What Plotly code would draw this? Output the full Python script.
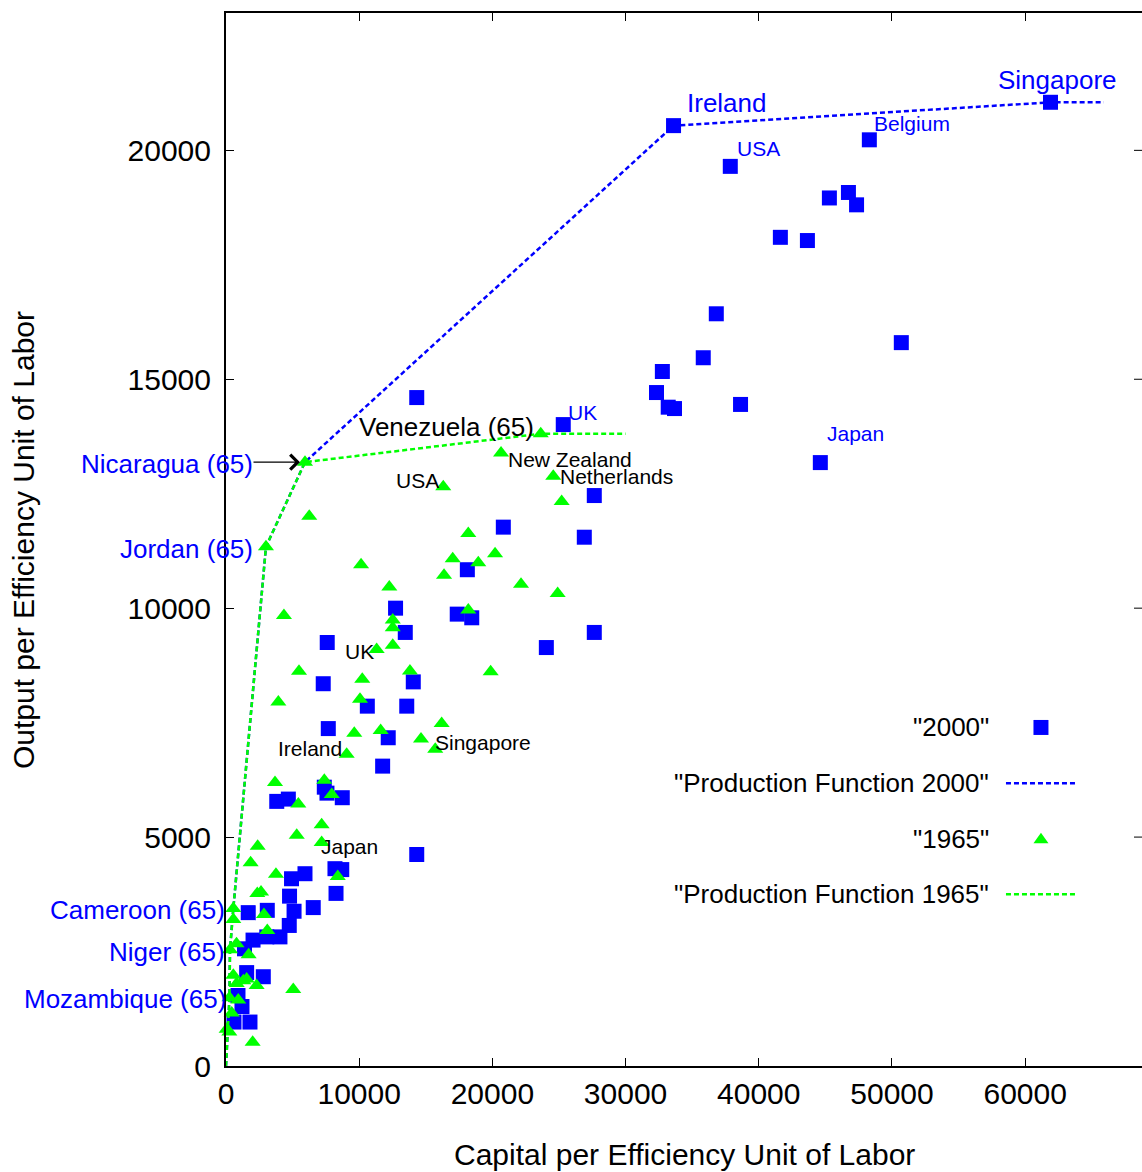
import plotly.graph_objects as go

# ---- data: capital (K) and output (Y) per efficiency unit of labour ----
# 2000 sample; the first six entries are the labelled countries
names2000 = ["Singapore", "Ireland", "Belgium", "USA", "UK", "Japan"]
k2000 = [61900, 33600, 48300, 37860, 25320, 44620,
         45300, 46730, 47340, 41620, 43650, 36810, 50700, 35830, 32760, 32320,
         33200, 33670, 38630, 14320, 27650, 20820, 26900, 18120, 17360, 18450,
         24050, 27650, 12730, 13460, 7600, 7300, 14060, 10610, 13570, 7680,
         12180, 11760, 7380, 7580, 3810, 4680, 8730, 14320, 4920, 5930, 8180,
         8690, 8260, 4770, 6550, 5110, 1670, 3100, 4750, 4050, 3060, 2030,
         1390, 1550, 2800, 900, 1200, 600, 1800]
y2000 = [21050, 20540, 20230, 19650, 14010, 13180,
         18960, 19080, 18810, 18100, 18030, 16430, 15800, 15470, 15170, 14710,
         14390, 14360, 14450, 14600, 12460, 11770, 11550, 10840, 9870, 9790,
         9140, 9470, 10000, 9470, 9250, 8350, 8390, 7860, 7860, 7370,
         7170, 6550, 6090, 5960, 5780, 5830, 5860, 4620, 4090, 4200, 4310,
         4290, 3770, 3710, 3460, 3380, 3350, 3400, 3070, 2820, 2820, 2750,
         2560, 2040, 1950, 1540, 1300, 960, 960]

# 1965 sample; the first thirteen entries are the labelled countries
names1965 = ["Nicaragua (65)", "Venezuela (65)", "Jordan (65)", "Cameroon (65)",
             "Niger (65)", "Mozambique (65)", "New Zealand", "Netherlands",
             "USA", "UK", "Ireland", "Singapore", "Japan"]
k1965 = [5930, 23630, 3000, 550, 300, 260, 20650, 24570, 16310, 11310, 9060,
         15710, 7180,
         25200, 6250, 18190, 20200, 17020, 18940, 16370, 10140, 22150, 24900,
         12260, 18190, 4350, 12520, 12520, 12520, 5480, 10230, 13810, 19870,
         3930, 10060, 16190, 9630, 11610, 14640, 3680, 7380, 7940, 5430, 7180,
         5310, 2380, 1850, 3750, 8390, 2350, 2630, 2850, 550, 3100, 790, 1700,
         550, 1550, 800, 1300, 2300, 5050, 920, 430, 50, 250, 2000]
y1965 = [13190, 13810, 11340, 3440, 2540, 1490, 13390, 12880, 12650, 9100, 6810,
         6920, 4880,
         12330, 12010, 11630, 11190, 11080, 10990, 10720, 10950, 10520, 10320,
         10460, 9960, 9840, 9740, 9570, 9190, 8620, 8450, 8630, 8610,
         7950, 8010, 7480, 7270, 7330, 7140, 6190, 6240, 5930, 5720, 5270,
         5040, 4800, 4440, 4190, 4140, 3770, 3800, 3310, 3200, 2960, 2670, 2430,
         1980, 1900, 1800, 1860, 1760, 1670, 1440, 1160, 800, 740, 520]

# frontier vertices (indices into the samples above) and flat extensions
frontier1965_idx = [5, 4, 3, 2, 0, 1]          # Mozambique ... Venezuela
frontier2000_idx65 = [5, 4, 3, 2, 0]           # Mozambique ... Nicaragua (1965)
frontier2000_idx00 = [1, 0]                    # Ireland, Singapore (2000)
frontier1965_end_k = 30000
frontier2000_end_k = 65900

pf65_k = [0] + [k1965[i] for i in frontier1965_idx] + [frontier1965_end_k]
pf65_y = [0] + [y1965[i] for i in frontier1965_idx] + [y1965[frontier1965_idx[-1]]]
pf00_k = ([0] + [k1965[i] for i in frontier2000_idx65]
          + [k2000[i] for i in frontier2000_idx00] + [frontier2000_end_k])
pf00_y = ([0] + [y1965[i] for i in frontier2000_idx65]
          + [y2000[i] for i in frontier2000_idx00] + [y2000[frontier2000_idx00[-1]]])

x_ticks = [0, 10000, 20000, 30000, 40000, 50000, 60000]
y_ticks = [0, 5000, 10000, 15000, 20000]

FONT = "Liberation Sans, Arial, Helvetica, sans-serif"
BLUE = "#0000ff"
GREEN = "#00ff00"
DASH = "5px,3px"

fig = go.Figure()
fig.add_trace(go.Scatter(x=k2000, y=y2000, mode="markers", cliponaxis=False,
                         marker=dict(symbol="square", size=15, color=BLUE,
                                     line=dict(width=0)),
                         showlegend=False, hoverinfo="skip"))
fig.add_trace(go.Scatter(x=pf00_k, y=pf00_y, mode="lines", cliponaxis=False,
                         line=dict(color=BLUE, width=2.5, dash=DASH),
                         showlegend=False, hoverinfo="skip"))
fig.add_trace(go.Scatter(x=k1965, y=y1965, mode="markers", cliponaxis=False,
                         marker=dict(symbol="triangle-up", size=14, color=GREEN,
                                     line=dict(width=0)),
                         showlegend=False, hoverinfo="skip"))
fig.add_trace(go.Scatter(x=pf65_k, y=pf65_y, mode="lines", cliponaxis=False,
                         line=dict(color=GREEN, width=2.5, dash=DASH),
                         showlegend=False, hoverinfo="skip"))

annotations = []

# point labels: (index, colour, font size, anchor, x shift px, y shift px)
labels1965 = [
    (0, BLUE, 26, "right", -51, -2),
    (1, "black", 26, "right", -6, 7),
    (2, BLUE, 26, "right", -12, -2),
    (3, BLUE, 26, "right", -7, -1),
    (4, BLUE, 26, "right", -4, -2),
    (5, BLUE, 26, "right", -2, -1),
    (6, "black", 21, "left", 6, -7),
    (7, "black", 21, "left", 6, 0),
    (8, "black", 21, "right", -3, 6),
    (9, "black", 21, "right", -2, -2),
    (10, "black", 21, "right", -4, 6),
    (11, "black", 21, "left", -1, 7),
    (12, "black", 21, "left", -2, -4),
]
labels2000 = [
    (0, BLUE, 26, "center", 7, 22),
    (1, BLUE, 26, "left", 12, 23),
    (2, BLUE, 21, "left", 4, 16),
    (3, BLUE, 21, "left", 6, 18),
    (4, BLUE, 21, "left", 4, 12),
    (5, BLUE, 21, "left", 6, 29),
]
for idx, col, size, anchor, dx, dy in labels1965:
    annotations.append(dict(x=k1965[idx], y=y1965[idx], xref="x", yref="y",
                            text=names1965[idx], showarrow=False,
                            xanchor=anchor, yanchor="middle", xshift=dx, yshift=dy,
                            borderpad=0, font=dict(family=FONT, size=size, color=col)))
for idx, col, size, anchor, dx, dy in labels2000:
    annotations.append(dict(x=k2000[idx], y=y2000[idx], xref="x", yref="y",
                            text=names2000[idx], showarrow=False,
                            xanchor=anchor, yanchor="middle", xshift=dx, yshift=dy,
                            borderpad=0, font=dict(family=FONT, size=size, color=col)))

# arrow pointing at Nicaragua (65)
annotations.append(dict(x=k1965[0], y=y1965[0], xref="x", yref="y", text="",
                        showarrow=True, ax=-53, ay=0, standoff=5,
                        arrowhead=4, arrowsize=2.4, arrowwidth=1.2,
                        arrowcolor="black"))

# axis titles
annotations.append(dict(x=0.501, y=-0.0845, xref="paper", yref="paper",
                        text="Capital per Efficiency Unit of Labor", showarrow=False,
                        xanchor="center", yanchor="middle",
                        font=dict(family=FONT, size=30, color="black")))
annotations.append(dict(x=-0.2216, y=0.4995, xref="paper", yref="paper",
                        text="Output per Efficiency Unit of Labor", showarrow=False,
                        textangle=-90, xanchor="center", yanchor="middle",
                        font=dict(family=FONT, size=30, color="black")))

# key in the lower right, text right-aligned before the sample
key_text_x = 0.8346
key_sample_x = 0.8897
key_line_x0, key_line_x1 = 0.8515, 0.9269
key_rows = [0.3215, 0.2686, 0.2159, 0.1632]
key_labels = ['"2000"', '"Production Function 2000"', '"1965"',
              '"Production Function 1965"']
for yr, txt in zip(key_rows, key_labels):
    annotations.append(dict(x=key_text_x, y=yr, xref="paper", yref="paper",
                            text=txt, showarrow=False, xanchor="right",
                            yanchor="middle", borderpad=0,
                            font=dict(family=FONT, size=26, color="black")))

shapes = []
shapes.append(dict(type="rect", xref="paper", yref="paper",
                   xsizemode="pixel", ysizemode="pixel",
                   xanchor=key_sample_x, yanchor=key_rows[0],
                   x0=-7.5, x1=7.5, y0=-7.5, y1=7.5,
                   fillcolor=BLUE, line=dict(width=0)))
shapes.append(dict(type="path", xref="paper", yref="paper",
                   xsizemode="pixel", ysizemode="pixel",
                   xanchor=key_sample_x, yanchor=key_rows[2],
                   path="M-7.5,-4.5 L7.5,-4.5 L0,6 Z",
                   fillcolor=GREEN, line=dict(width=0)))
for yr, col in ((key_rows[1], BLUE), (key_rows[3], GREEN)):
    shapes.append(dict(type="line", xref="paper", yref="paper",
                       x0=key_line_x0, x1=key_line_x1, y0=yr, y1=yr,
                       line=dict(color=col, width=2.5, dash=DASH)))

# tick marks on the right-hand edge
for v in y_ticks[1:]:
    shapes.append(dict(type="line", xref="paper", yref="y",
                       xsizemode="pixel", xanchor=1, x0=-8, x1=0, y0=v, y1=v,
                       line=dict(color="black", width=1)))

fig.update_layout(
    width=1142, height=1172,
    margin=dict(l=226, r=0, t=13, b=106, pad=0),
    plot_bgcolor="white", paper_bgcolor="white",
    showlegend=False,
    font=dict(family=FONT, color="black"),
    annotations=annotations,
    shapes=shapes,
    xaxis=dict(range=[0, 68770], tickvals=x_ticks,
               ticktext=[str(v) for v in x_ticks],
               ticks="inside", ticklen=8, tickwidth=1, tickcolor="black",
               showline=True, linecolor="black", linewidth=2, mirror="ticks",
               showgrid=False, zeroline=False, ticklabelstandoff=0,
               tickfont=dict(family=FONT, size=30, color="black")),
    yaxis=dict(range=[0, 23000], tickvals=y_ticks,
               ticktext=[str(v) for v in y_ticks],
               ticks="inside", ticklen=8, tickwidth=1, tickcolor="black",
               showline=True, linecolor="black", linewidth=2, mirror=False,
               showgrid=False, zeroline=False, ticklabelstandoff=7,
               tickfont=dict(family=FONT, size=30, color="black")),
)

fig.write_html("out.html")
